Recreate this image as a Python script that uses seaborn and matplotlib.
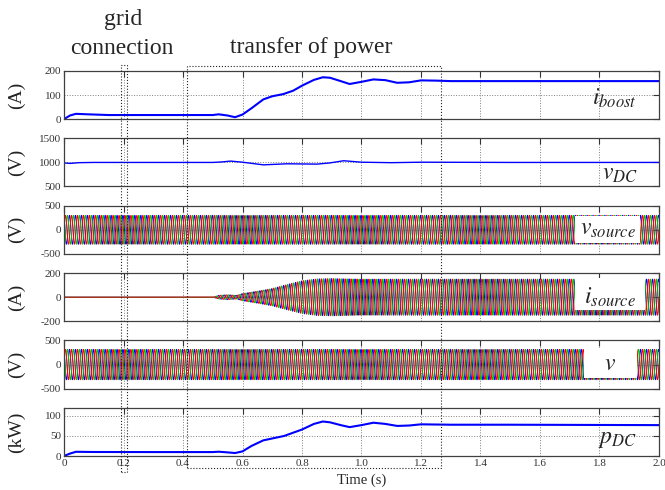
import matplotlib
matplotlib.use("Agg")
import matplotlib.pyplot as plt
from matplotlib.patches import Rectangle
import numpy as np
import seaborn as sns

# boost converter current (A)
boost_t = [0, 0.02, 0.04, 0.08, 0.15, 0.3, 0.45, 0.5, 0.52, 0.55, 0.575, 0.6, 0.63, 0.67,
           0.7, 0.737, 0.77, 0.8, 0.84, 0.87, 0.894, 0.93, 0.96, 1.0, 1.04, 1.08, 1.12,
           1.16, 1.2, 1.25, 1.3, 1.5, 1.7, 2.0]
boost_a = [0, 15, 22, 20, 17, 17, 17, 17, 20, 15, 8, 19, 45, 82,
           95, 104, 118, 139, 163, 174, 172, 158, 146, 155, 165, 162, 151,
           153, 161, 160, 158, 158, 158, 158]

# DC link voltage (V)
vdc_t = [0, 0.02, 0.05, 0.1, 0.3, 0.5, 0.53, 0.56, 0.6, 0.67, 0.75, 0.85, 0.894,
         0.94, 1.0, 1.1, 1.2, 1.5, 2.0]
vdc_v = [990, 980, 995, 1000, 1000, 1000, 1010, 1028, 1005, 950, 972, 965, 990,
         1035, 1005, 995, 1005, 1000, 1000]

# DC power (kW)
pdc_t = [0, 0.02, 0.04, 0.1, 0.3, 0.5, 0.52, 0.55, 0.575, 0.6, 0.63, 0.67, 0.74, 0.8,
         0.84, 0.87, 0.894, 0.93, 0.96, 1.0, 1.04, 1.08, 1.12, 1.16, 1.2, 1.3, 1.5, 2.0]
pdc_p = [0, 6, 10.5, 10, 9.8, 9.8, 10.7, 9, 7.4, 11.5, 25, 39, 50, 66,
         80, 86, 84, 77, 72, 77, 83, 80, 75, 76, 79, 78, 78, 77]

# three-phase envelopes (peak values)
isrc_t = [0, 0.5, 0.52, 0.55, 0.58, 0.6, 0.65, 0.7, 0.75, 0.8, 0.85, 0.9, 1.0, 2.0]
isrc_amp = [0, 0, 15, 20, 15, 30, 50, 72, 105, 136, 152, 155, 150, 150]
vsrc_amp = 300
v_amp = 315
freq = 50

phase_colors = ["b", "#00c000", "r"]
phase_shift = [2 * np.pi / 3, -2 * np.pi / 3, 0]

sns.set_style("white")
plt.rcParams["font.family"] = ["Liberation Serif", "DejaVu Serif"]
plt.rcParams["mathtext.fontset"] = "stix"
plt.rcParams["axes.unicode_minus"] = False

fig, axes = plt.subplots(6, 1, figsize=(6.65, 4.9), dpi=100, sharex=True)
left, right = 64 / 665, 659 / 665
top, bottom = 1 - 71 / 490, 1 - 456 / 490
fig.subplots_adjust(left=left, right=right, top=top, bottom=bottom, hspace=0.40)

t = np.linspace(0, 2, 8001)


def three_phase(ax, amp):
    for c, ph in zip(phase_colors, phase_shift):
        sns.lineplot(x=t, y=amp * np.sin(2 * np.pi * freq * t + ph), ax=ax,
                     color=c, linewidth=0.7, estimator=None)


sns.lineplot(x=boost_t, y=boost_a, ax=axes[0], color="b", linewidth=1.5, estimator=None)
sns.lineplot(x=vdc_t, y=vdc_v, ax=axes[1], color="b", linewidth=1.0, estimator=None)
three_phase(axes[2], vsrc_amp)
three_phase(axes[3], np.interp(t, isrc_t, isrc_amp))
three_phase(axes[4], v_amp)
sns.lineplot(x=pdc_t, y=pdc_p, ax=axes[5], color="b", linewidth=1.5, estimator=None)

ylims = [(0, 200), (500, 1500), (-500, 500), (-200, 200), (-500, 500), (0, 120)]
yticks = [[0, 100, 200], [500, 1000, 1500], [-500, 0, 500], [-200, 0, 200],
          [-500, 0, 500], [0, 50, 100]]
units = ["(A)", "(V)", "(V)", "(A)", "(V)", "(kW)"]

for ax, yl, yt, u in zip(axes, ylims, yticks, units):
    ax.set_xlim(0, 2)
    ax.set_ylim(*yl)
    ax.set_yticks(yt)
    ax.set_xticks(np.arange(0, 2.01, 0.2))
    ax.set_axisbelow(True)
    ax.grid(True, ls=":", color="#808080", lw=0.7)
    ax.tick_params(direction="in", top=True, right=True, length=4, width=0.8,
                   labelsize=8, colors="#333333", pad=2)
    for s in ax.spines.values():
        s.set_color("#404040")
        s.set_linewidth(0.9)
    ax.set_ylabel(u, fontsize=14, color="#222222")
    ax.yaxis.set_label_coords(-0.066, 0.5)

axes[5].set_xticklabels(["0", "0.2", "0.4", "0.6", "0.8", "1.0", "1.2", "1.4", "1.6", "1.8", "2.0"])
axes[5].set_xlabel("Time (s)", fontsize=10.5, labelpad=4)

# white boxes behind labels on the waveform panels
masks = [(2, 1.718, 1.935, -270, 292), (3, 1.718, 1.953, -108, 158), (4, 1.748, 1.926, -270, 354)]
for i, x0, x1, y0, y1 in masks:
    axes[i].add_patch(Rectangle((x0, y0), x1 - x0, y1 - y0, facecolor="white",
                                edgecolor="none", zorder=3))

labels = [(0, 1.85, 85, r"$i_{boost}$"), (1, 1.87, 740, r"$v_{DC}$"),
          (2, 1.83, 0, r"$v_{source}$"), (3, 1.835, 0, r"$i_{source}$"),
          (4, 1.837, 0, r"$v$"), (5, 1.86, 40, r"$p_{DC}$")]
for i, x, y, s in labels:
    axes[i].text(x, y, s, fontsize=17, ha="center", va="center", zorder=4)


def fx(tv):
    return left + tv / 2 * (right - left)


def fy(py):
    return 1 - py / 490


for x0, x1, y0, y1 in [(0.19, 0.212, 472, 65), (0.413, 1.267, 468, 66)]:
    fig.add_artist(Rectangle((fx(x0), fy(y0)), fx(x1) - fx(x0), fy(y1) - fy(y0),
                             transform=fig.transFigure, fill=False, ls=":",
                             lw=0.8, ec="#222222"))

fig.text(fx(0.2), fy(20), "grid", fontsize=17, ha="center", va="center")
fig.text(fx(0.195), fy(48), "connection", fontsize=17, ha="center", va="center")
fig.text(311 / 665, fy(48), "transfer of power", fontsize=17, ha="center", va="center")

fig.savefig("out.png", dpi=100)
